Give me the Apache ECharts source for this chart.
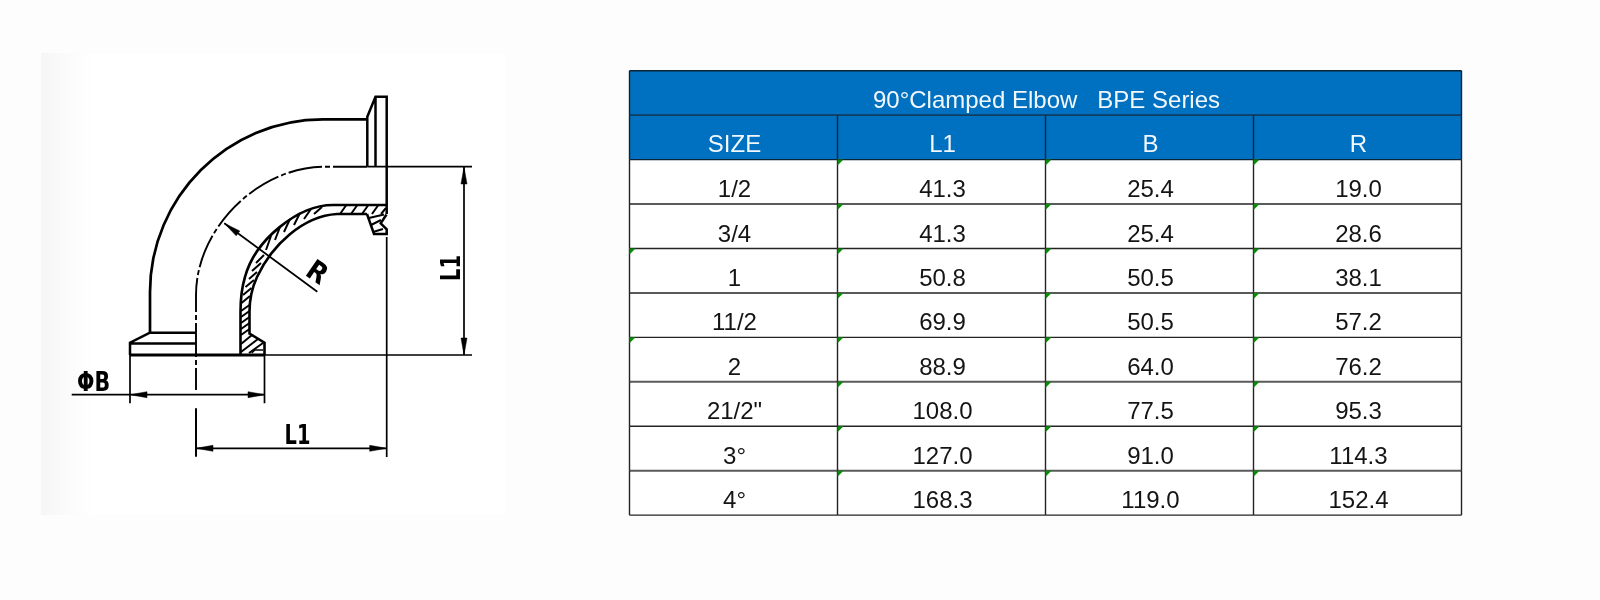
<!DOCTYPE html>
<html>
<head>
<meta charset="utf-8">
<style>
  html, body { margin: 0; padding: 0; background: #fdfdfe; }
  #chart { width: 1600px; height: 600px; }
</style>
<script src="https://cdn.jsdelivr.net/npm/echarts@6/dist/echarts.min.js"></script>
</head>
<body>
<div id="chart"></div>
<script>
const tableTitle = '90°Clamped Elbow   BPE Series';
const headers = ['SIZE', 'L1', 'B', 'R'];
const sizes = ['1/2', '3/4', '1', '11/2', '2', '21/2"', '3°', '4°'];
const l1Values = [41.3, 41.3, 50.8, 69.9, 88.9, 108.0, 127.0, 168.3];
const bValues = [25.4, 25.4, 50.5, 50.5, 64.0, 77.5, 91.0, 119.0];
const rValues = [19.0, 28.6, 38.1, 57.2, 76.2, 95.3, 114.3, 152.4];
// excel's green "number as text" corner marks in the first column
const markedSizes = ['1', '2'];

const rowNames = ['title', 'header'].concat(sizes.map((s, i) => 'row' + i));
const BLUE = '#0070c0';
const INK = '#141414';

// every cell of the table, title cell is col 0 and spans the whole width
let cells = [{ col: 0, row: 0, text: tableTitle, kind: 'title' }];
headers.forEach((h, c) => cells.push({ col: c, row: 1, text: h, kind: 'header' }));
sizes.forEach((s, i) => {
  const r = i + 2;
  cells.push({ col: 0, row: r, text: s, kind: 'body', mark: markedSizes.indexOf(s) >= 0 });
  cells.push({ col: 1, row: r, text: l1Values[i].toFixed(1), kind: 'body', mark: true });
  cells.push({ col: 2, row: r, text: bValues[i].toFixed(1), kind: 'body', mark: true });
  cells.push({ col: 3, row: r, text: rValues[i].toFixed(1), kind: 'body', mark: true });
});

function renderFill(params, api) {
  const cell = cells[params.dataIndex];
  if (cell.kind === 'body') return null;
  const p = api.coord([cell.col, cell.row]);
  const s = api.size([1, 1]);
  const box = params.coordSys;
  return {
    type: 'rect',
    shape: {
      x: cell.kind === 'title' ? box.x : p[0] - s[0] / 2,
      y: p[1] - s[1] / 2,
      width: cell.kind === 'title' ? box.width : s[0],
      height: s[1]
    },
    style: { fill: BLUE }
  };
}

function renderCell(params, api) {
  const cell = cells[params.dataIndex];
  const p = api.coord([cell.col, cell.row]);
  const s = api.size([1, 1]);
  const box = params.coordSys;
  const left = p[0] - s[0] / 2;
  const top = p[1] - s[1] / 2;
  const bottom = top + s[1];
  const right = left + s[0];
  let children = [];

  // horizontal rule under the cell, they alternate a bit in the scan
  const cellRight = cell.kind === 'title' ? box.x + box.width : right;
  const grey = cell.kind === 'body' && cell.row % 2 === 0;
  children.push({
    type: 'line',
    shape: { x1: left, y1: bottom, x2: cellRight, y2: bottom },
    style: { stroke: grey ? '#5a5a5a' : (cell.kind === 'body' ? '#242424' : '#0c2438'), lineWidth: grey ? 2 : 1.4 }
  });
  if (cell.kind === 'title') {
    children.push({
      type: 'line',
      shape: { x1: left, y1: top, x2: cellRight, y2: top },
      style: { stroke: '#0c2438', lineWidth: 1.4 }
    });
  }
  // left rule, the right edge only on the last column
  children.push({
    type: 'line',
    shape: { x1: left, y1: top, x2: left, y2: bottom },
    style: { stroke: cell.kind === 'body' ? '#222' : '#0c2438', lineWidth: 1.4 }
  });
  if (cell.col === 3 || cell.kind === 'title') {
    children.push({
      type: 'line',
      shape: { x1: cellRight, y1: top, x2: cellRight, y2: bottom },
      style: { stroke: cell.kind === 'body' ? '#222' : '#0c2438', lineWidth: 1.4 }
    });
  }
  if (cell.mark) {
    children.push({
      type: 'polygon',
      shape: { points: [[left, top], [left + 6, top], [left, top + 6]] },
      style: { fill: '#0a8a0a' }
    });
  }
  children.push({
    type: 'text',
    style: {
      text: cell.text,
      x: (cell.kind === 'title' ? box.x + box.width / 2 : p[0]) + 1,
      y: bottom - (cell.kind === 'header' ? 2.5 : 1.5),
      textAlign: 'center',
      textVerticalAlign: 'bottom',
      fill: cell.kind === 'body' ? INK : '#f2f7fc',
      font: '24px "Liberation Sans"'
    }
  });
  return { type: 'group', children: children };
}

// elbow drawing, outlines in the drawing grid's own units
const outlines = [
  // outer bend and top flange
  { w: 2.7, d: 'M367.3 119.3 L323 119.3 C228 119.3 150 197 150 292 L150 332.7' },
  { w: 2.5, d: 'M367.3 166.7 L367.3 116.7 L375.5 96.7 L386.7 96.7 L386.7 214 M375.5 96.7 L375.5 166.7' },
  // bottom flange
  { w: 2.5, d: 'M150 332.7 L130 342.7 L130 355 M150 332.7 L196 332.7 M130 343.5 L196 343.5' },
  { w: 3, d: 'M130 355 L265 355' },
  // section, wall lines and clamp profile
  { w: 2.6, d: 'M386.7 205 L333 205 C298 205 255 240 245 277 C241 290 240.5 300 240.5 312 L240.5 355' },
  { w: 2.6, d: 'M367 214 L337 214 C303 216 272 245 257 277 C251 290 249.5 300 249.5 312 L249.5 333.5 L264.5 342.7 L264.5 355' },
  { w: 2.5, d: 'M367 214 L374 234 L386.7 234 L386.7 229.3 L380.7 223.3 L386.5 214.5' },
  { w: 1.4, d: 'M251.7 353 L255 350 L263 350' },
  // extension and dimension lines
  { w: 1.7, d: 'M367.3 166.7 L472 166.7 M265 355 L472 355' },
  { w: 1.7, d: 'M386.7 237 L386.7 457 M264.5 355 L264.5 403.3 M130 355 L130 403.3' },
  { w: 1.7, d: 'M464 167 L464 355 M71.7 394.7 L265 394.7 M196 448.3 L386.7 448.3' },
  { w: 2, d: 'M196 408.3 L196 456.7' },
  { w: 1.7, d: 'M224.3 223.3 L317.3 291.7' }
];

const centerLine = 'M367 166.7 L325 166.7 C258 166.7 196 229 196 295 L196 390';

const arrowHeads = [
  'M464 167 L461 184 L467 184 Z',
  'M464 355 L461 338 L467 338 Z',
  'M130 394.7 L147 391.7 L147 397.7 Z',
  'M265 394.7 L248 391.7 L248 397.7 Z',
  'M196 448.3 L213 445.3 L213 451.3 Z',
  'M386.7 448.3 L369.7 445.3 L369.7 451.3 Z',
  'M224.3 223.3 L236.2 235.8 L239.8 231 Z'
];

const hatching = [
  'M340 214 L346 205.5 M351 214 L357 205.5 M362 214 L368 205.5 M372 214 L378 205.5 M381 214 L386 208',
  'M369 218 L384 214.5 M371 225 L381 220 M373 232 L383 229',
  'M314 214 L322 207 M304 219 L311 209 M294 225 L300 213 M284 232 L290 219 M275 240 L280 227 M266 250 L271 236',
  'M256 263 L264 255 M252 271 L261 263 M249 279 L257 272 M245.5 287 L254 280 M243 295 L251.5 288 M241.5 303 L250 296',
  'M241 311 L249.5 305 M241 317 L249.5 311 M241 323 L249.5 317 M241 329 L249.5 323 M241 335 L249.5 329',
  'M241 344 L252 335 M241 352 L258 339 M249 353 L263 343'
];

const drawingLabels = [
  { text: 'ΦB', x: 93.5, y: 383.5, rot: 0, sx: 0.76, size: 27 },
  { text: 'L1', x: 297.5, y: 437, rot: 0, sx: 0.72, size: 27 },
  { text: 'L1', x: 452.5, y: 268, rot: Math.PI / 2, sx: 0.72, size: 27 },
  { text: 'R', x: 316, y: 274, rot: -0.6, sx: 0.9, size: 28 }
];

// run the path through the axes so nothing is placed by hand
function mapPath(d, api) {
  return d.replace(/(-?[\d.]+) (-?[\d.]+)/g, (m, x, y) => {
    const p = api.coord([+x, +y]);
    return p[0].toFixed(2) + ' ' + p[1].toFixed(2);
  });
}

function renderDrawing(params, api) {
  let children = [];
  outlines.forEach(o => {
    children.push({
      type: 'path',
      shape: { pathData: mapPath(o.d, api) },
      style: { fill: 'none', stroke: '#000', lineWidth: o.w, lineJoin: 'miter' }
    });
  });
  children.push({
    type: 'path',
    shape: { pathData: mapPath(centerLine, api) },
    style: { fill: 'none', stroke: '#000', lineWidth: 1.9, lineDash: [34, 3, 5, 3] }
  });
  hatching.forEach(d => {
    children.push({
      type: 'path',
      shape: { pathData: mapPath(d, api) },
      style: { fill: 'none', stroke: '#000', lineWidth: 2 }
    });
  });
  arrowHeads.forEach(d => {
    children.push({
      type: 'path',
      shape: { pathData: mapPath(d, api) },
      style: { fill: '#000', stroke: '#000', lineWidth: 0.5 }
    });
  });
  drawingLabels.forEach(l => {
    const p = api.coord([l.x, l.y]);
    children.push({
      type: 'text',
      x: p[0],
      y: p[1],
      rotation: l.rot,
      scaleX: l.sx,
      style: {
        text: l.text,
        x: 0,
        y: 0,
        textAlign: 'center',
        textVerticalAlign: 'middle',
        fill: '#000',
        font: 'bold ' + l.size + 'px "DejaVu Sans"'
      }
    });
  });
  return { type: 'group', children: children };
}

const chart = echarts.init(document.getElementById('chart'), null, { width: 1600, height: 600 });

chart.setOption({
  animation: false,
  backgroundColor: '#fdfdfe',
  grid: [
    {
      left: 629.5, top: 70.7, width: 832, height: 444.4,
      show: true, borderWidth: 0, backgroundColor: '#fff'
    },
    {
      left: 41, top: 53, width: 464, height: 462,
      show: true, borderWidth: 0,
      backgroundColor: new echarts.graphic.LinearGradient(0, 0, 1, 0, [
        { offset: 0, color: '#f6f6f6' },
        { offset: 0.11, color: '#ffffff' },
        { offset: 1, color: '#ffffff' }
      ])
    }
  ],
  xAxis: [
    { gridIndex: 0, type: 'category', data: headers, show: false },
    { gridIndex: 1, type: 'value', min: 41, max: 505, show: false }
  ],
  yAxis: [
    { gridIndex: 0, type: 'category', data: rowNames, inverse: true, show: false },
    { gridIndex: 1, type: 'value', min: 53, max: 515, inverse: true, show: false }
  ],
  series: [
    {
      type: 'custom',
      name: 'fills',
      xAxisIndex: 0,
      yAxisIndex: 0,
      z: 2,
      silent: true,
      renderItem: renderFill,
      data: cells.map(c => [c.col, c.row])
    },
    {
      type: 'custom',
      name: 'cells',
      xAxisIndex: 0,
      yAxisIndex: 0,
      z: 3,
      silent: true,
      renderItem: renderCell,
      data: cells.map(c => [c.col, c.row])
    },
    {
      type: 'custom',
      name: 'elbow',
      xAxisIndex: 1,
      yAxisIndex: 1,
      silent: true,
      renderItem: renderDrawing,
      data: [[41, 53]]
    }
  ]
});
</script>
</body>
</html>
